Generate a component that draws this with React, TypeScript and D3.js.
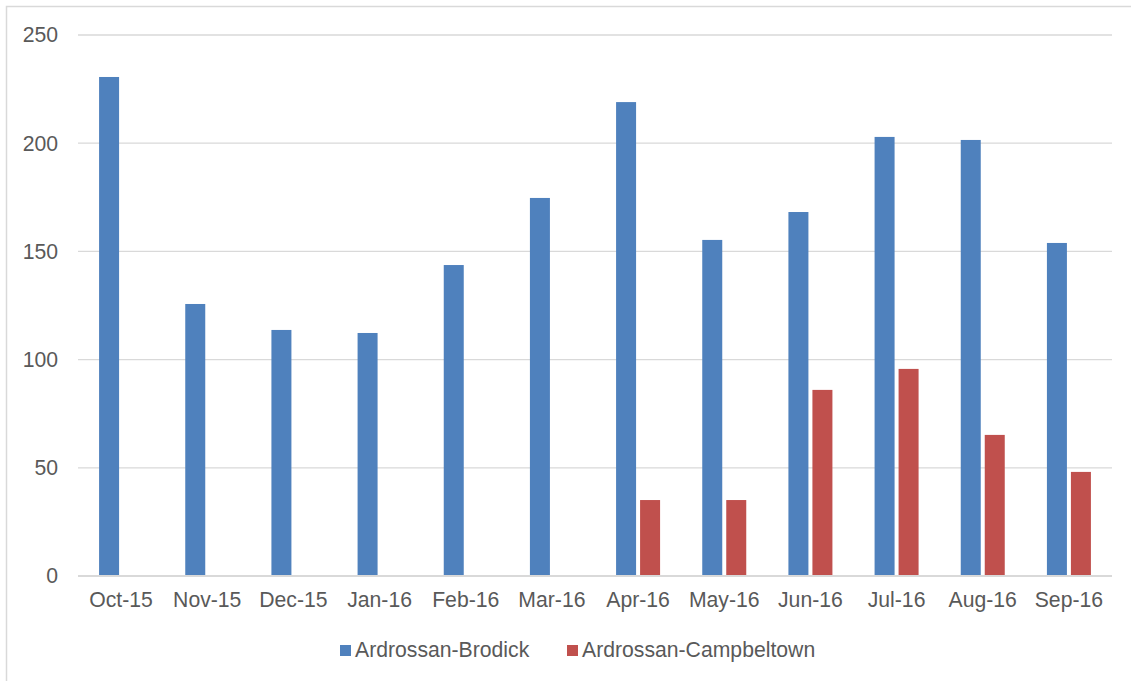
import React from "react";
import * as d3 from "d3";

const categories = ["Oct-15", "Nov-15", "Dec-15", "Jan-16", "Feb-16", "Mar-16", "Apr-16", "May-16", "Jun-16", "Jul-16", "Aug-16", "Sep-16"];
const seriesNames = ["Ardrossan-Brodick", "Ardrossan-Campbeltown"];
const brodick = [230.6, 125.7, 113.7, 112.3, 143.7, 174.7, 219, 155.3, 168.2, 202.9, 201.5, 153.9];
const campbeltown = [0, 0, 0, 0, 0, 0, 35.1, 35.1, 86, 95.7, 65.2, 48.1];
const yTicks = [0, 50, 100, 150, 200, 250];
const colors = ["#4f81bd", "#c0504d"];

const W = 1131;
const H = 681;
const left = 78;
const right = 1112;
const top = 35;
const bottom = 576;
const font = "'Liberation Sans', Arial, sans-serif";
const textColor = "#595959";
const fs = 21.2;

export default function App() {
  const x0 = d3.scaleBand<string>().domain(categories).range([left, right]).padding(0);
  const bw = x0.bandwidth();
  const x1 = d3
    .scaleBand<string>()
    .domain(seriesNames)
    .range([bw / 2 - 22, bw / 2 + 22])
    .paddingInner(4 / 24)
    .paddingOuter(0);
  const y = d3.scaleLinear().domain([0, 250]).range([bottom, top]);
  const values = [brodick, campbeltown];

  return (
    <div style={{ position: "absolute", left: 0, top: 0 }}>
      <svg width={W} height={H} style={{ display: "block", background: "#fff" }}>
        <rect x={6.5} y={6.5} width={W} height={H} fill="#fff" stroke="#d9d9d9" strokeWidth={1.5} />
        {yTicks.map((t) => (
          <g key={t}>
            {t !== 0 && (
              <line x1={left} x2={right} y1={y(t)} y2={y(t)} stroke="#d9d9d9" strokeWidth={1.3} />
            )}
            <text
              x={58}
              y={y(t)}
              dy="0.35em"
              textAnchor="end"
              fontFamily={font}
              fontSize={fs}
              fill={textColor}
            >
              {t}
            </text>
          </g>
        ))}
        {categories.map((c, i) => (
          <g key={c} transform={`translate(${x0(c)},0)`}>
            {seriesNames.map((s, j) => {
              const v = values[j][i];
              if (!v) return null;
              return (
                <rect
                  key={s}
                  x={x1(s)}
                  y={y(v)}
                  width={x1.bandwidth()}
                  height={y(0) - y(v)}
                  fill={colors[j]}
                />
              );
            })}
            <text
              x={bw / 2}
              y={607}
              textAnchor="middle"
              fontFamily={font}
              fontSize={fs}
              fill={textColor}
            >
              {c}
            </text>
          </g>
        ))}
        <line x1={left} x2={right} y1={bottom} y2={bottom} stroke="#d9d9d9" strokeWidth={2} />
        {(() => {
          const items = [
            { x: 340, name: seriesNames[0], color: colors[0] },
            { x: 567, name: seriesNames[1], color: colors[1] },
          ];
          return items.map((it) => (
            <g key={it.name}>
              <rect x={it.x} y={645} width={11} height={11} fill={it.color} />
              <text x={it.x + 15} y={656.5} fontFamily={font} fontSize={fs} fill={textColor}>
                {it.name}
              </text>
            </g>
          ));
        })()}
      </svg>
    </div>
  );
}
